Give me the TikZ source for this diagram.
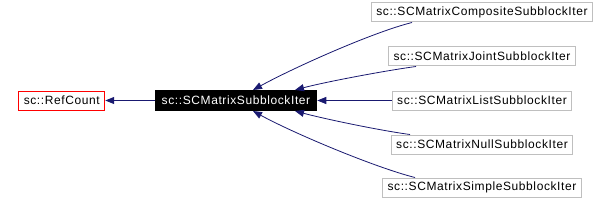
\documentclass[tikz,border=0pt]{standalone}
\usepackage{fontspec}
\newfontfamily\dxfont[LetterSpace=5]{Liberation Sans}
\usetikzlibrary{positioning, arrows.meta, calc}
\definecolor{edgeblue}{HTML}{191970}
\definecolor{boxgray}{HTML}{BFBFBF}

\begin{document}
\begin{tikzpicture}[
    x=1pt, y=1pt,
    node distance=24pt and 49.5pt,
    box/.style={rectangle, draw=#1, line width=1pt, minimum height=19pt, inner xsep=5pt, inner ysep=0pt, font=\fontsize{12}{14}\dxfont, fill=white},
    box/.default=boxgray,
    arrow/.style={-{Triangle[length=9pt, width=7pt]}, draw=edgeblue, line width=0.8pt},
]
\useasboundingbox (0,0) rectangle (612,201);

% Base classes
\node[box=black, fill=black, text=white, minimum height=20pt, inner xsep=6.5pt] (iter) at (236,100.5) {sc::SCMatrixSubblockIter};
\node[box=red, left=of iter] (refcount) {sc::RefCount};

% Derived classes
\node[box] (list) at (482,100.5) {sc::SCMatrixListSubblockIter};
\node[box, above=24pt of list] (joint) {sc::SCMatrixJointSubblockIter};
\node[box, above=24pt of joint] (composite) {sc::SCMatrixCompositeSubblockIter};
\node[box, below=24pt of list] (null) {sc::SCMatrixNullSubblockIter};
\node[box, below=23pt of null] (simple) {sc::SCMatrixSimpleSubblockIter};

% Inheritance
\draw[arrow] (iter.west) -- (refcount.east);
\draw[arrow] ([xshift=-70pt]composite.south) .. controls +(-40,-10) and +(40,22) .. ([xshift=17pt]iter.north);
\draw[arrow] ([xshift=-66pt]joint.south) .. controls +(-30,-4) and +(30,8) .. ([xshift=59pt]iter.north);
\draw[arrow] (list.west) -- (iter.east);
\draw[arrow] ([xshift=-72pt]null.north) .. controls +(-30,4) and +(30,-8) .. ([xshift=59pt]iter.south);
\draw[arrow] ([xshift=-67pt]simple.north) .. controls +(-40,10) and +(40,-22) .. ([xshift=17pt]iter.south);

\end{tikzpicture}
\end{document}
